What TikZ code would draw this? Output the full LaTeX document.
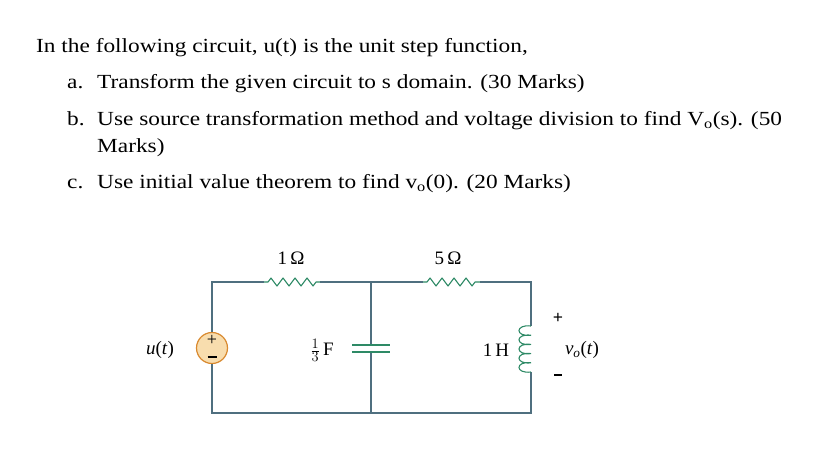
\documentclass[tikz,border=0pt]{standalone}
\usepackage{fontspec}
\usetikzlibrary{calc}
\setmainfont{Liberation Serif}
\begin{document}
\begin{tikzpicture}[x=1pt,y=-1pt,
  txt/.style={anchor=base west,inner sep=0pt,font=\fontsize{20}{22}\selectfont},
  lbl/.style={inner sep=0pt,font=\fontsize{19}{21}\selectfont},
  wire/.style={draw=wirec,line width=1.1pt},
  comp/.style={draw=compc,line width=1.1pt}]
\definecolor{wirec}{HTML}{4F6F7F}
\definecolor{compc}{HTML}{2E8A66}
\definecolor{srcfill}{HTML}{F8DDAE}
\definecolor{srcline}{HTML}{D98A30}
\useasboundingbox (0,0) rectangle (833,466);
\newcommand{\sq}[1]{\scalebox{1.166}[1]{#1}}
\node[txt] (t1) at (36,52) {\sq{In the following circuit, u(t) is the unit step function,}};
\node[txt] (ta) at (67,88) {\sq{a.}};
\node[txt] (tat) at (97,88) {\sq{Transform the given circuit to s domain. (30 Marks)}};
\node[txt] (tb) at (67,125) {\sq{b.}};
\node[txt] (tbt) at (97,125) {\sq{Use source transformation method and voltage division to find V\textsubscript{o}(s). (50}};
\node[txt] (tb2) at (97,152) {\sq{Marks)}};
\node[txt] (tc) at (67,188) {\sq{c.}};
\node[txt] (tct) at (97,188) {\sq{Use initial value theorem to find v\textsubscript{o}(0). (20 Marks)}};
% circuit coordinates
\coordinate (tl) at (212,282);
\coordinate (tm) at (371,282);
\coordinate (tr) at (531,282);
\coordinate (bl) at (212,413);
\coordinate (bm) at (371,413);
\coordinate (br) at (531,413);
\coordinate (r1a) at (264,282); \coordinate (r1b) at (320,282);
\coordinate (r2a) at (423,282); \coordinate (r2b) at (480,282);
\coordinate (ca) at (371,345); \coordinate (cb) at (371,352);
\coordinate (la) at (531,326); \coordinate (lb) at (531,372);
\node[circle,draw=srcline,fill=srcfill,line width=1.2pt,minimum size=31pt,inner sep=0pt] (src) at (212,348) {};
\node[inner sep=0pt,font=\fontsize{18}{18}\selectfont] (srcp) at (212,340) {+};
\node[inner sep=0pt] (srcm) at (212,357) {\rule{9pt}{1.2pt}};
% wires
\draw[wire] (src.north) -- (tl) -- (r1a);
\draw[wire] (r1b) -- (tm) -- (r2a);
\draw[wire] (r2b) -- (tr) -- (la);
\draw[wire] (src.south) -- (bl) -- (br) -- (lb);
\draw[wire] (tm) -- (ca);
\draw[wire] (cb) -- (bm);
% resistors
\draw[comp,line join=round] (r1a) -- ++(4,0) \foreach \i in {1,...,4}{ -- ++(3,-4) -- ++(6,8) -- ++(3,-4)} -- (r1b);
\draw[comp,line join=round] (r2a) -- ++(4,0) \foreach \i in {1,...,4}{ -- ++(3,-4) -- ++(6,8) -- ++(3,-4)} -- (r2b);
% capacitor
\draw[comp] ($(ca)+(-19,0)$) -- ($(ca)+(19,0)$);
\draw[comp] ($(cb)+(-19,0)$) -- ($(cb)+(19,0)$);
% inductor
\draw[comp] (la) \foreach \i in {1,...,5}{ .. controls ++(-16,-2) and ++(-16,2) .. ++(0,9.2)} ;
% labels
\node[lbl] (l1) at (291,258) {1\,Ω};
\node[lbl] (l5) at (448,258) {5\,Ω};
\node[lbl] (lu) at (160,350) {\textit{u}(\textit{t})};
\node[lbl] (lc) at (322,350) {$\frac{1}{3}$\,F};
\node[lbl] (lh) at (496,350) {1\,H};
\node[lbl,font=\fontsize{18}{18}\selectfont\bfseries] (lp) at (558,318) {+};
\node[lbl] (lv) at (582,350) {\textit{v\textsubscript{o}}(\textit{t})};
\node[lbl] (lm) at (558,375) {\rule{8pt}{1.5pt}};
\end{tikzpicture}
\end{document}
